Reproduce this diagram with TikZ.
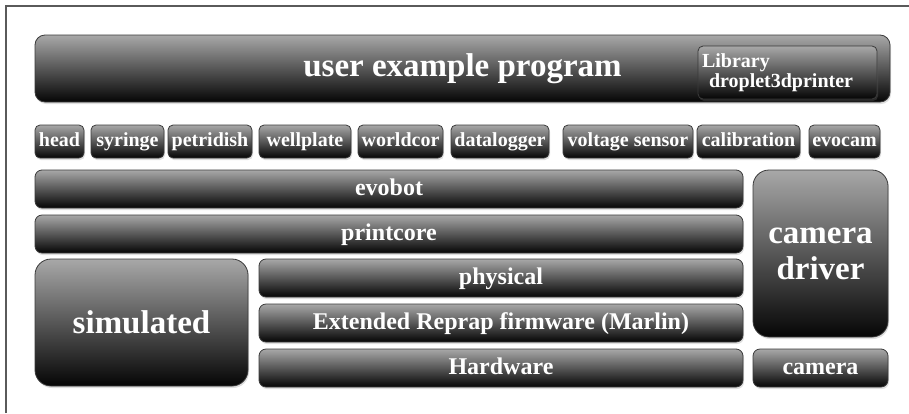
\documentclass[tikz,border=0pt]{standalone}
\usepackage{fontspec}
\setmainfont{Liberation Serif}
\usetikzlibrary{positioning,shadows}
\definecolor{stacktop}{HTML}{A8A8A8}
\definecolor{stackbottom}{HTML}{050505}
\definecolor{stackedge}{HTML}{3A3A3A}
\definecolor{framegray}{HTML}{5A5A5A}

\begin{document}
\begin{tikzpicture}[x=1pt, y=1pt,
    layer/.style={rounded corners=7pt, top color=stacktop, bottom color=stackbottom,
      draw=stackedge, line width=0.8pt, text=white, inner sep=0pt, outer sep=0pt,
      anchor=north west, font=\bfseries\fontsize{24}{26}\selectfont,
      text height=16pt, text depth=4pt,
      drop shadow={opacity=0.25, shadow xshift=1pt, shadow yshift=-2pt}},
    module/.style={layer, rounded corners=5pt, minimum height=33pt,
      font=\bfseries\fontsize{20}{20}\selectfont, text height=14pt, text depth=4pt},
    block/.style={layer, rounded corners=16pt, font=\bfseries\fontsize{33}{36}\selectfont,
      text height=, text depth=}
  ]
  \useasboundingbox (0,0) rectangle (909,-413);
  % frame
  \draw[framegray, line width=2pt] (6,-413) -- (6,-6) -- (909,-6);

  % top layer
  \node[block, rounded corners=10pt, minimum width=855pt, minimum height=67pt] (program) at (35,-35) {user example program};
  \node[module, minimum height=53pt, text height=, text depth=, text width=171pt, inner xsep=4pt, align=left] (library) at (698,-46) {Library\\\hspace*{7pt}droplet3dprinter};

  % modules
  \node[module, minimum width=49pt] (head) at (35,-125) {head};
  \node[module, minimum width=73pt, right=7pt of head] (syringe) {syringe};
  \node[module, minimum width=84pt, right=4pt of syringe] (petridish) {petridish};
  \node[module, minimum width=92pt, right=7pt of petridish] (wellplate) {wellplate};
  \node[module, minimum width=85pt, right=7pt of wellplate] (worldcor) {worldcor};
  \node[module, minimum width=98pt, right=8pt of worldcor] (datalogger) {datalogger};
  \node[module, minimum width=130pt, right=14pt of datalogger] (voltage) {voltage sensor};
  \node[module, minimum width=103pt, right=4pt of voltage] (calibration) {calibration};
  \node[module, minimum width=71pt, right=9pt of calibration] (evocam) {evocam};

  % core layers
  \node[layer, minimum width=708pt, minimum height=38pt] (evobot) at (35,-170) {evobot};
  \node[layer, minimum width=708pt, minimum height=38pt, below=7pt of evobot] (printcore) {printcore};
  \node[block, minimum width=213pt, minimum height=127pt] (simulated) at (35,-259) {simulated};
  \node[layer, minimum width=484pt, minimum height=38pt] (physical) at (259,-259) {physical};
  \node[layer, minimum width=484pt, minimum height=38pt, below=7pt of physical] (firmware) {Extended Reprap firmware (Marlin)};
  \node[layer, minimum width=484pt, minimum height=38pt, below=7pt of firmware] (hardware) {Hardware};

  % camera
  \node[block, minimum width=135pt, minimum height=167pt, align=center] (driver) at (753,-170) {camera\\driver};
  \node[layer, minimum width=135pt, minimum height=38pt, below=12pt of driver] (camera) {camera};
\end{tikzpicture}
\end{document}
